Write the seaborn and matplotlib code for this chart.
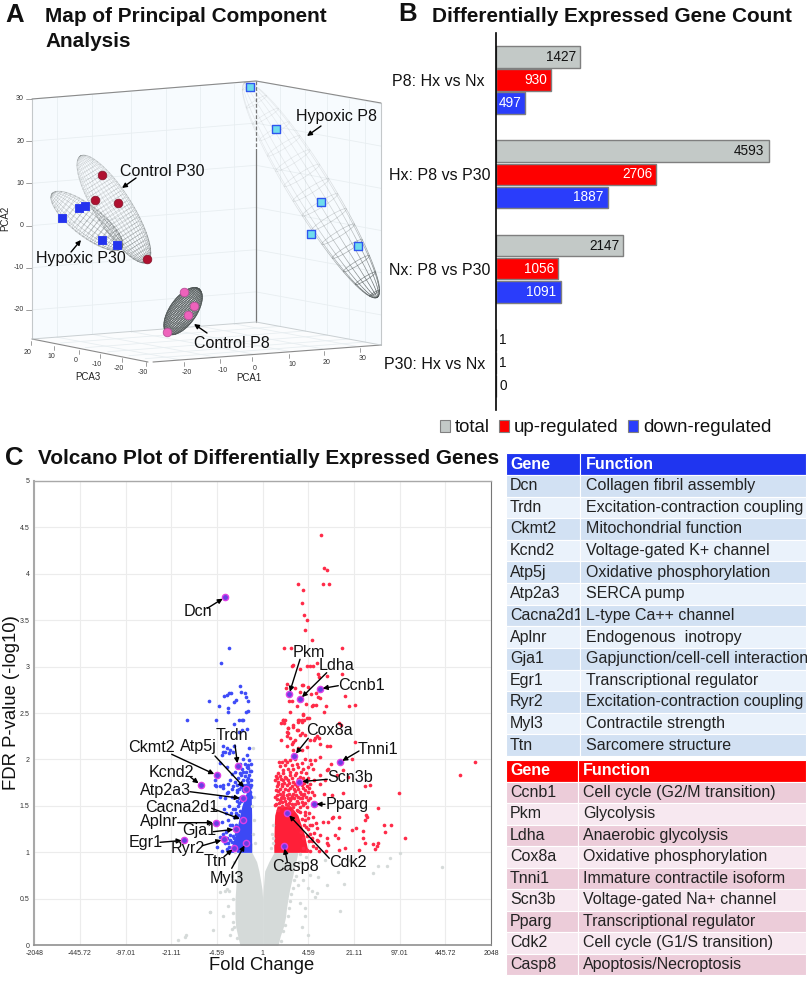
import numpy as np
import pandas as pd
import matplotlib
matplotlib.use("Agg")
import matplotlib.pyplot as plt
import seaborn as sns
from matplotlib.collections import LineCollection
from matplotlib.patches import Patch, Polygon
from matplotlib.transforms import ScaledTranslation

sns.set_theme(style="white")
plt.rcParams['font.family'] = ['Liberation Sans', 'DejaVu Sans']

W, H = 807, 982

# ---- panel A data (projected PCA coordinates)
hypoxic_p8 = [(51.7, 32.8), (57.8, 22.9), (68.5, 5.6), (66.1, -2.0), (77.3, -4.9)]
hypoxic_p30 = [(7.1, 1.8), (11.1, 4.1), (12.6, 4.6), (16.6, -3.4), (20.1, -4.6)]
control_p30 = [(16.6, 12.0), (14.9, 6.0), (20.4, 5.3), (27.3, -7.9)]
control_p8 = [(36.0, -15.8), (38.4, -19.1), (37.0, -21.2), (32.0, -25.2)]
pca2_ticks = [30, 20, 10, 0, -10, -20]
pca3_ticks = [20, 10, 0, -10, -20, -30]
pca1_ticks = [-20, -10, 0, 10, 20, 30]

# ---- panel B data
comparisons = ['P8: Hx vs Nx', 'Hx: P8 vs P30', 'Nx: P8 vs P30', 'P30: Hx vs Nx']
total_counts = [1427, 4593, 2147, 1]
up_counts = [930, 2706, 1056, 1]
down_counts = [497, 1887, 1091, 0]

# ---- panel C data (log2 fold change, -log10 FDR)
fold_ticks = [-2048, -445.72, -97.01, -21.11, -4.59, 1, 4.59, 21.11, 97.01, 445.72, 2048]
p_ticks = [0, 0.5, 1, 1.5, 2, 2.5, 3, 3.5, 4, 4.5, 5]

grey_y = [0, .1, .2, .3, .4, .5, .6, .7, .8, .9, 1.0, 1.1]
grey_left = [-1.09, -1.2, -1.3, -1.33, -1.33, -1.33, -1.3, -1.27, -1.23, -1.2, -1.19, -.9]
grey_inner_left = [0, 0, 0, 0, 0, 0, -.03, -.1, -.18, -.29, -.52, -.5]
grey_inner_right = [0, 0, 0, 0, 0, 0, .03, .06, .1, .3, .55, .5]
grey_right = [.74, .85, 1.0, 1.1, 1.15, 1.22, 1.3, 1.4, 1.5, 1.6, 1.7, 1.0]
grey_points = [(-2.05, .57), (-1.73, .61), (-2.53, .36), (-3.74, .09), (-3.68, .11), (-4.09, .06),
               (-1.62, .58), (-1.82, .58), (-2.54, .36), (-1.90, .31), (-2.38, .16), (-1.66, .42),
               (-1.42, .25), (-1.58, .11), (-1.5, .18), (6.13, .94), (6.61, .99), (8.62, .84),
               (5.57, .85), (5.97, .85), (5.33, .775), (3.72, .37), (2.68, .74), (3.08, .65),
               (3.93, .66), (3.64, .79), (2.2, .62), (2.60, .56), (2.36, .58), (2.52, .52),
               (2.17, .11), (2.04, .31), (1.88, .20), (2.04, .40), (1.80, .45), (1.96, .70),
               (2.28, .76), (3.0, .92), (4.2, .92), (2.1, .95), (-.45, 1.2), (-.42, 1.35),
               (-.5, 1.5), (-.55, 1.7), (-.35, 1.1), (.42, 1.05), (.45, 1.2), (.5, 1.1),
               (.48, 1.3), (.52, 1.15), (-.45, 2.12), (-.4, 1.6),
               (1.8, .98), (1.75, .9), (1.68, .85), (1.62, .75), (1.52, .7), (1.45, .62), (1.38, .55),
               (1.32, .48), (1.25, .4), (1.2, .32), (1.1, .22), (1.0, .15), (.9, .05), (1.85, .9),
               (1.7, .65), (-1.4, .9), (-1.45, .7), (-1.42, .5), (-1.45, .35), (-1.38, .2), (-1.25, .08),
               (-1.5, .75), (-1.35, 1.0)]

blue_y = [1, 1.1, 1.2, 1.3, 1.4, 1.5, 1.6, 1.7]
blue_left = [-1.55, -1.45, -1.3, -1.2, -1.1, -1.0, -.85, -.7]
blue_right = [-.53, -.53, -.53, -.53, -.53, -.54, -.55, -.58]
blue_points = [(-1.605, 3.203), (-1.99, 3.042), (-1.09, 2.794), (-1.06, 2.73), (-.87, 2.71),
               (-1.51, 2.72), (-1.62, 2.71), (-1.73, 2.69), (-1.85, 2.68), (-.80, 2.67),
               (-.69, 2.63), (-1.30, 2.64), (-1.40, 2.62), (-2.58, 2.63), (-2.09, 2.57),
               (-1.65, 2.55), (-1.67, 2.51), (-.72, 2.52), (-.82, 2.51), (-2.23, 2.43),
               (-1.16, 2.43), (-.93, 2.43), (-1.0, 2.43), (-1.40, 2.38), (-.74, 2.33),
               (-.98, 2.32), (-1.12, 2.30), (-1.89, 2.145), (-1.73, 2.12), (-1.36, 2.145),
               (-.64, 2.12), (-1.89, 2.08), (-1.96, 2.05), (-1.60, 2.07), (-1.41, 2.08),
               (-.74, 2.05), (-.93, 2.01), (-.66, 1.995), (-.69, 1.94), (-1.09, 1.95),
               (-.69, 1.905), (-.93, 1.87), (-1.09, 1.85), (-1.49, 1.84), (-.56, 1.88),
               (-1.17, 1.80), (-.69, 1.80), (-.85, 1.82), (-2.30, 1.78), (-1.65, 1.74),
               (-1.33, 1.76), (-1.89, 1.72), (-2.26, 1.71), (-1.09, 1.74), (-.61, 1.70),
               (-1.49, 1.68), (-1.65, 1.65), (-1.25, 1.67), (-.77, 1.60), (-.61, 1.62),
               (-3.66, 2.43), (-1.81, 2.08), (-1.57, 2.10), (-2.05, 1.96), (-1.73, 1.92),
               (-1.57, 1.78), (-1.89, 1.69), (-2.29, 1.725), (-2.05, 1.71), (-2.05, 1.6),
               (-1.73, 1.64), (-1.41, 1.71), (-1.49, 1.60), (-1.22, 1.65), (-1.86, 1.47),
               (-1.54, 1.42), (-1.33, 1.47), (-1.57, 1.29), (-1.76, 1.22), (-2.05, 1.17),
               (-1.57, 1.19), (-2.21, 1.06), (-1.73, 1.04), (-1.49, 1.11), (-1.65, 1.10),
               (-1.89, 1.20), (-1.17, 1.40), (-1.12, 1.53), (-1.06, 1.60), (-.93, 1.725),
               (-.77, 1.78), (-1.06, 1.83), (-1.33, 1.87), (-.73, 1.92), (-1.4, 1.15),
               (-1.45, 1.03), (-1.3, 1.3), (-1.2, 1.25), (-1.25, 1.38), (-1.1, 1.45),
               (-.6, 1.65), (-.72, 1.68), (-.88, 1.66), (-.65, 1.72), (-.8, 1.72), (-.58, 1.78),
               (-.68, 1.83), (-.95, 1.78), (-.62, 1.88), (-.8, 1.86), (-.58, 1.95), (-.86, 1.95),
               (-1.0, 1.9), (-.95, 1.67), (-1.05, 1.7), (-1.15, 1.58), (-1.02, 1.55), (-1.25, 1.55),
               (-1.18, 1.5), (-1.3, 1.42), (-1.4, 1.38), (-1.48, 1.3), (-1.38, 1.25), (-1.3, 1.2),
               (-1.45, 1.18), (-1.55, 1.13), (-1.62, 1.06), (-1.55, 1.02), (-1.7, 1.15), (-1.82, 1.1),
               (-1.95, 1.02), (-1.42, 1.47), (-1.22, 1.72), (-1.12, 1.68), (-.72, 1.76), (-.55, 1.72),
               (-.55, 1.6), (-1.65, 1.35), (-1.75, 1.42), (-1.95, 1.33), (-1.6, 1.5), (-1.8, 1.58)]

red_y = [1, 1.1, 1.2, 1.3, 1.4, 1.5]
red_left = [.54, .54, .55, .56, .58, .7]
red_right = [2.2, 2.1, 2.0, 1.85, 1.7, 1.35]
red_points = [(2.82, 4.42), (2.95, 4.06), (3.11, 4.04), (1.70, 3.89), (2.90, 3.89), (3.21, 3.89),
              (1.93, 3.82), (1.91, 3.68), (1.97, 3.55), (2.13, 3.50), (2.05, 3.39), (2.36, 3.29),
              (1.03, 3.20), (1.35, 3.20), (3.82, 3.20), (1.40, 3.01), (1.48, 3.02), (2.13, 3.01),
              (2.28, 3.01), (2.44, 3.01), (2.62, 3.04), (1.80, 2.97), (3.80, 2.92), (2.65, 2.92),
              (2.71, 2.89), (3.11, 2.90), (1.15, 2.81), (1.11, 2.77), (1.88, 2.80), (1.96, 2.80),
              (2.17, 2.78), (1.55, 2.77), (1.80, 2.73), (2.55, 2.71), (2.31, 2.70), (3.97, 2.68),
              (1.40, 2.63), (1.25, 2.63), (2.66, 2.67), (2.78, 2.66), (2.58, 2.59), (2.36, 2.58),
              (2.41, 2.59), (2.07, 2.60), (3.07, 2.57), (1.64, 2.57), (4.16, 2.57), (4.43, 2.59),
              (2.97, 2.51), (1.30, 2.51), (1.96, 2.49), (2.25, 2.45), (1.76, 2.43), (1.88, 2.43),
              (2.0, 2.42), (1.0, 2.43), (1.07, 2.42), (.88, 2.39), (1.04, 2.39), (1.88, 2.40),
              (1.68, 2.40), (3.66, 2.39), (3.76, 2.37), (1.23, 2.34), (1.19, 2.30), (1.15, 2.25),
              (1.48, 2.35), (1.67, 2.32), (1.91, 2.29), (.87, 2.21), (1.56, 2.21), (1.44, 2.19),
              (2.49, 2.21), (2.60, 2.25), (2.70, 2.23), (2.78, 2.17), (3.11, 2.15), (3.26, 2.14),
              (4.46, 2.19), (4.29, 2.0), (3.27, 1.95), (.79, 1.97), (.91, 1.97), (1.15, 1.97),
              (3.08, 1.89), (10.23, 1.97), (9.52, 1.83),
              (6.58, 1.64), (3.87, 1.64), (2.95, 1.625), (3.32, 1.615), (4.93, 1.71), (5.17, 1.72),
              (5.54, 1.475), (4.96, 1.40), (5.01, 1.385), (4.93, 1.35), (3.40, 1.385), (3.69, 1.385),
              (3.32, 1.37), (3.16, 1.33), (2.92, 1.33), (6.20, 1.295), (5.84, 1.29), (5.88, 1.22),
              (4.85, 1.23), (4.51, 1.26), (4.29, 1.24), (3.69, 1.26), (3.48, 1.19), (3.64, 1.16),
              (4.85, 1.16), (6.84, 1.15), (4.93, 1.10), (5.54, 1.105), (5.30, 1.09), (5.49, 1.07),
              (5.41, 1.04), (4.66, 1.03), (3.96, 1.05), (3.69, 1.03), (3.11, 1.15), (3.08, 1.10),
              (3.13, 1.08), (3.05, 1.01), (2.68, 1.12), (2.76, 1.19), (2.44, 1.07), (2.12, 1.03),
              (2.36, 1.15), (2.47, 1.21), (2.60, 1.26), (1.96, 1.05), (2.44, 1.385), (2.28, 1.30),
              (2.2, 1.37), (2.04, 1.35), (1.95, 1.15), (1.85, 1.22), (1.75, 1.28), (1.6, 1.36),
              (.64, 1.82), (.83, 1.82), (1.07, 1.81), (1.32, 1.83), (1.56, 1.83), (1.80, 1.81),
              (.59, 1.78), (.75, 1.76), (.99, 1.78), (1.24, 1.78), (1.48, 1.76), (.67, 1.71),
              (.91, 1.71), (1.15, 1.73), (1.40, 1.71), (1.64, 1.71), (1.88, 1.73), (2.12, 1.71),
              (.75, 1.66), (.99, 1.65), (1.24, 1.67), (1.56, 1.66), (1.80, 1.65), (2.04, 1.67),
              (2.36, 1.65), (.67, 1.62), (.91, 1.60), (1.15, 1.62), (1.40, 1.61), (1.72, 1.60),
              (1.96, 1.62), (.83, 1.56), (1.07, 1.55), (1.32, 1.56), (1.64, 1.55), (1.88, 1.54),
              (2.20, 1.56), (.59, 1.51), (.91, 1.50), (1.24, 1.50), (1.48, 1.49), (1.80, 1.49),
              (2.12, 1.49), (.75, 1.46), (1.07, 1.45), (1.40, 1.44), (1.72, 1.44), (2.04, 1.43),
              (.99, 2.42), (1.24, 2.34), (1.2, 2.28), (1.32, 2.23), (1.40, 2.17), (1.15, 2.14),
              (1.48, 2.37), (1.72, 2.42), (1.96, 2.48), (2.12, 2.45), (1.72, 2.32), (1.80, 2.26),
              (2.04, 2.26), (2.28, 2.21), (2.52, 2.23), (1.72, 2.12), (1.88, 2.10), (2.12, 2.13),
              (1.48, 2.10), (1.56, 2.01), (1.32, 1.99), (1.07, 1.99), (2.04, 2.01), (2.28, 1.99),
              (2.52, 1.99), (2.76, 2.03), (.99, 1.89), (1.24, 1.90), (1.48, 1.90), (1.72, 1.92),
              (1.96, 1.90), (2.20, 1.92), (2.44, 1.90), (2.76, 1.83), (3.0, 1.78), (2.76, 1.74),
              (3.16, 1.90), (3.56, 1.83), (4.13, 1.81), (3.88, 1.89),
              (.62, 1.52), (.78, 1.53), (.95, 1.54), (1.12, 1.52), (1.28, 1.53), (1.42, 1.52),
              (1.58, 1.52), (1.72, 1.53), (1.95, 1.51), (2.05, 1.53), (.7, 1.57), (.88, 1.58),
              (1.02, 1.58), (1.2, 1.59), (1.38, 1.58), (1.5, 1.59), (1.78, 1.58), (1.9, 1.59),
              (2.1, 1.6), (2.3, 1.58), (.6, 1.6), (.82, 1.63), (1.0, 1.62), (1.28, 1.63),
              (1.48, 1.63), (1.62, 1.62), (1.85, 1.63), (2.0, 1.63), (2.18, 1.65), (2.45, 1.62),
              (.65, 1.67), (.85, 1.68), (1.08, 1.68), (1.32, 1.69), (1.5, 1.68), (1.7, 1.68),
              (1.95, 1.69), (2.22, 1.69), (.72, 1.74), (.95, 1.74), (1.05, 1.75), (1.25, 1.75),
              (1.55, 1.74), (1.75, 1.75), (2.0, 1.75), (2.3, 1.74), (.68, 1.8), (.9, 1.79),
              (1.12, 1.8), (1.42, 1.8), (1.7, 1.79), (1.95, 1.8), (2.2, 1.8), (2.45, 1.78),
              (.75, 1.85), (1.0, 1.85), (1.3, 1.86), (1.6, 1.85), (1.85, 1.86), (2.1, 1.85),
              (.85, 1.93), (1.1, 1.94), (1.4, 1.94), (1.65, 1.95), (1.9, 1.96), (2.35, 1.95),
              (2.3, 1.02), (2.4, 1.12), (2.25, 1.12), (2.15, 1.18), (2.3, 1.2), (2.1, 1.27),
              (2.0, 1.3), (2.2, 1.25), (1.9, 1.36), (2.05, 1.4), (1.8, 1.43), (1.65, 1.46),
              (2.25, 1.42), (2.4, 1.3), (2.55, 1.05), (2.6, 1.13), (2.7, 1.02), (2.55, 1.32)]

marked_genes = ['Dcn', 'Trdn', 'Ckmt2', 'Kcnd2', 'Atp5j', 'Atp2a3', 'Cacna2d1', 'Aplnr', 'Gja1', 'Egr1', 'Ryr2', 'Ttn', 'Myl3',
                'Ccnb1', 'Pkm', 'Ldha', 'Cox8a', 'Tnni1', 'Scn3b', 'Pparg', 'Cdk2', 'Casp8']
marked_fc = [-1.81, -1.20, -2.21, -2.98, -.81, -.97, -.97, -2.26, -1.28, -3.77, -1.86, -1.36, -.81,
             2.76, 1.27, 1.80, 1.52, 3.72, 1.77, 2.46, 1.19, 1.03]
marked_p = [3.746, 1.93, 1.83, 1.725, 1.68, 1.58, 1.35, 1.32, 1.25, 1.13, 1.14, 1.05, 1.10,
            2.76, 2.70, 2.65, 2.04, 1.97, 1.76, 1.52, 1.42, 1.07]

# ---- tables
down_genes = ['Dcn', 'Trdn', 'Ckmt2', 'Kcnd2', 'Atp5j', 'Atp2a3', 'Cacna2d1', 'Aplnr', 'Gja1', 'Egr1', 'Ryr2', 'Myl3', 'Ttn']
down_funcs = ['Collagen fibril assembly', 'Excitation-contraction coupling', 'Mitochondrial function',
              'Voltage-gated K+ channel', 'Oxidative phosphorylation', 'SERCA pump', 'L-type Ca++ channel',
              'Endogenous  inotropy', 'Gapjunction/cell-cell interaction', 'Transcriptional regulator',
              'Excitation-contraction coupling', 'Contractile strength', 'Sarcomere structure']
up_genes = ['Ccnb1', 'Pkm', 'Ldha', 'Cox8a', 'Tnni1', 'Scn3b', 'Pparg', 'Cdk2', 'Casp8']
up_funcs = ['Cell cycle (G2/M transition)', 'Glycolysis', 'Anaerobic glycolysis', 'Oxidative phosphorylation',
            'Immature contractile isoform', 'Voltage-gated Na+ channel', 'Transcriptional regulator',
            'Cell cycle (G1/S transition)', 'Apoptosis/Necroptosis']


def px_axes(left, top, right, bottom, **kw):
    # axes placed by picture pixels
    return fig.add_axes([left / W, 1 - bottom / H, (right - left) / W, (bottom - top) / H], **kw)


def wire(ax, cx, cy, a, b, angle, n_rings, n_mer, lo, hi, lw=.45, power=2, flat=False):
    th0 = np.radians(angle)
    curves = []
    for s in np.linspace(-.96, .96, n_rings):
        t = np.linspace(0, 2 * np.pi, 40)
        h = b * np.sqrt(1 - s ** 2)
        curves.append((a * s + .14 * h * np.cos(t), h * np.sin(t)))
    for phi in np.linspace(0, np.pi, n_mer):
        t = np.linspace(0, np.pi, 60)
        curves.append((a * np.cos(t), b * np.sin(t) * np.cos(phi)))
    segs, cols = [], []
    for lx, ly in curves:
        x = cx + lx * np.cos(th0) - ly * np.sin(th0)
        y = cy + lx * np.sin(th0) + ly * np.cos(th0)
        pts = np.column_stack([x, y])
        for i in range(len(pts) - 1):
            segs.append(pts[i:i + 2])
            f = 1 if flat else (lx[i] / a + 1) / 2
            cols.append((.3, .33, .33, lo + (hi - lo) * f ** power))
    ax.add_collection(LineCollection(segs, colors=cols, linewidths=lw))


fig = plt.figure(figsize=(W / 100, H / 100), dpi=100)
bg = px_axes(0, 0, W, H, zorder=0)
bg.set_xlim(0, W)
bg.set_ylim(H, 0)
bg.axis('off')
ov = px_axes(0, 0, W, H, zorder=10)
ov.set_xlim(0, W)
ov.set_ylim(H, 0)
ov.axis('off')
ov.patch.set_alpha(0)

# headings
for letter, x, y in [('A', 5, 15), ('B', 398, 14), ('C', 5, 458)]:
    ov.text(x, y, letter, fontsize=18.5, fontweight='bold', va='center', color='#111111')
ov.text(45, 16, 'Map of Principal Component', fontsize=14.95, fontweight='bold', va='center', color='#111111')
ov.text(45, 41, 'Analysis', fontsize=14.95, fontweight='bold', va='center', color='#111111')
ov.text(432, 16, 'Differentially Expressed Gene Count', fontsize=14.95, fontweight='bold', va='center', color='#111111')
ov.text(38, 459, 'Volcano Plot of Differentially Expressed Genes', fontsize=14.95, fontweight='bold', va='center', color='#111111')

# ---- A: box of the 3D view
B_, L_, R_, F_ = np.array([256, 322.]), np.array([32, 339.]), np.array([381, 345.]), np.array([157, 362.])
wall_h = 240
bg.add_patch(Polygon([L_, B_, B_ - [0, wall_h + 1], L_ - [0, wall_h]], fc='#f7fbfe', ec='none'))
bg.add_patch(Polygon([B_, R_, R_ - [0, wall_h + 2], B_ - [0, wall_h + 1]], fc='#f7fbfe', ec='none'))
bg.add_patch(Polygon([L_, B_, R_, F_], fc='#fbfcfd', ec='none'))
grid_c = '#e8eef1'
for v in pca2_ticks:
    yl = 225.5 - 4.22 * v
    bg.plot([32, 256, 381], [yl, yl - 18, yl + 5], color=grid_c, lw=.6)
    bg.plot([26, 32], [yl, yl], color='#777777', lw=.5)
    bg.text(24, yl, str(v), fontsize=5, ha='right', va='center', color='#333333')
for t in [.11, .27, .44, .6, .75, .9]:
    p = L_ + t * (B_ - L_)
    bg.plot([p[0], p[0]], [p[1], p[1] - wall_h], color=grid_c, lw=.6)
    q = p + (R_ - B_) * .98
    bg.plot([p[0], q[0]], [p[1], q[1]], color=grid_c, lw=.6)
for t in [.19, .39, .57, .74, .87]:
    p = B_ + t * (R_ - B_)
    bg.plot([p[0], p[0]], [p[1], p[1] - wall_h], color=grid_c, lw=.6)
    q = p + (L_ - B_) * .98
    bg.plot([p[0], q[0]], [p[1], q[1]], color=grid_c, lw=.6)
edge_c = '#8a8a8a'
bg.plot([32, 32], [99, 339], color='#c4c8ca', lw=.8)
bg.plot([381, 381], [103, 345], color='#c4c8ca', lw=.8)
bg.plot([32, 256, 381], [99, 81, 103], color=edge_c, lw=.8)
bg.plot([256, 256], [150, 322], color='#777777', lw=.9)
bg.plot([256, 256], [81, 150], color='#777777', lw=.9, ls=(0, (3, 1.5)))
bg.plot([L_[0], 148], [L_[1], 362], color='#8a8a8a', lw=.8)
bg.plot([R_[0], 153], [R_[1], 362], color='#8a8a8a', lw=.8)
bg.plot([L_[0], B_[0], R_[0]], [L_[1], B_[1], R_[1]], color='#c9cfd2', lw=.7)
for v, x, y in zip(pca3_ticks, [28, 51, 76, 97, 119, 143], [352, 357, 361, 365, 369, 373]):
    bg.plot([x + 3, x + 3], [y - 11, y - 7], color='#777777', lw=.5)
    bg.text(x, y, str(v), fontsize=5, ha='center', va='center', color='#333333')
for v, x, y in zip(pca1_ticks, [187, 223, 255, 292, 327, 363], [373, 370, 368, 365, 362, 359]):
    bg.plot([x - 3, x - 3], [y - 11, y - 7], color='#777777', lw=.5)
    bg.text(x, y, str(v), fontsize=5, ha='center', va='center', color='#333333')
bg.text(88, 377, 'PCA3', fontsize=7, ha='center', va='center', color='#222222')
bg.text(249, 378, 'PCA1', fontsize=7, ha='center', va='center', color='#222222')
bg.text(5, 218, 'PCA2', fontsize=7, ha='center', va='center', rotation=90, color='#222222')

# A: samples, axes x/y scaled to the PCA2 units of the left wall
ax_a = px_axes(32, 81, 381, 365, zorder=1)
ax_a.set_xlim(0, 349 / 4.22)
ax_a.set_ylim((225.5 - 365) / 4.22, (225.5 - 81) / 4.22)
ax_a.axis('off')
ax_a.patch.set_alpha(0)
wire(ax_a, 66.1, 8.4, 29.9, 5.0, -58.3, 15, 9, .1, 1.0, lw=.5, power=4)
wire(ax_a, 19.4, 3.9, 14.9, 4.4, -57.7, 32, 17, .22, .6, lw=.3)
wire(ax_a, 13.0, 1.1, 10.5, 3.6, -38, 20, 11, .3, .6, lw=.35)
wire(ax_a, 35.8, -20.3, 6.5, 3.2, 54.7, 34, 18, .9, .9, lw=.45, flat=True)


def samples(points, marker, size, face, edge, lw):
    d = pd.DataFrame(points, columns=['x', 'y'])
    sns.scatterplot(data=d, x='x', y='y', marker=marker, s=size, color=face, edgecolor=edge, linewidth=lw, ax=ax_a, zorder=5, clip_on=False)


samples(hypoxic_p8, 's', 32, '#6fdcec', '#2f55ef', 1.0)
samples(hypoxic_p30, 's', 38, '#2433ee', '#2433ee', .6)
samples(control_p30, 'o', 38, '#b01030', '#8a1a30', .6)
samples(control_p8, 'o', 38, '#ee62bb', '#b8509a', .6)
ax_a.set_xlabel('')
ax_a.set_ylabel('')

arrow = dict(arrowstyle='-|>', color='black', lw=1.0, mutation_scale=7, shrinkA=0, shrinkB=0)
for txt, tx, ty, x0, y0, x1, y1 in [('Hypoxic P8', 337, 116, 321, 126, 307, 136),
                                    ('Control P30', 162, 171, 136, 178, 122, 188),
                                    ('Hypoxic P30', 81, 258, 71, 252, 81, 240),
                                    ('Control P8', 232, 343, 207, 333, 194, 324)]:
    ov.text(tx, ty, txt, fontsize=11.5, ha='center', va='center', color='#111111')
    ov.annotate('', xy=(x1, y1), xytext=(x0, y0), arrowprops=arrow)

# ---- B
counts = pd.DataFrame({'comparison': comparisons * 3,
                       'count': total_counts + up_counts + down_counts,
                       'kind': ['total'] * 4 + ['up-regulated'] * 4 + ['down-regulated'] * 4})
palette = {'total': '#c3c9c7', 'up-regulated': '#fe0000', 'down-regulated': '#2a3dfb'}
ax_b = px_axes(495.7, 33, 792.7, 410, zorder=2)
sns.barplot(data=counts, y='comparison', x='count', hue='kind', palette=palette, orient='h', width=.735, gap=.06,
            saturation=1, edgecolor='#7f7f7f', linewidth=1, legend=False, ax=ax_b)
ax_b.set_xlim(0, 5000)
ax_b.set_ylim(3.5, -.5)
ax_b.set_xlabel('')
ax_b.set_ylabel('')
ax_b.set_xticks([])
sns.despine(ax=ax_b, left=False, top=True, right=True, bottom=True)
ax_b.spines['left'].set_color('black')
ax_b.spines['left'].set_linewidth(1.2)
ax_b.patch.set_alpha(0)
ax_b.tick_params(axis='y', length=0, pad=3.5, labelsize=11.5, labelcolor='#111111')
for lab, dx in zip(ax_b.get_yticklabels(), [-6.5, 0, 0, -5.5]):
    lab.set_transform(lab.get_transform() + ScaledTranslation(dx / 100, 0, fig.dpi_scale_trans))
for cont, vals, col in zip(ax_b.containers, [total_counts, up_counts, down_counts], ['#111111', 'white', 'white']):
    for bar, v in zip(cont, vals):
        yc = bar.get_y() + bar.get_height() / 2
        if v > 100:
            ax_b.annotate(str(v), (v, yc), xytext=(-3, 0), textcoords='offset points', ha='right', va='center', fontsize=9.8, color=col)
        else:
            ax_b.annotate(str(v), (0, yc), xytext=(2.5, 0), textcoords='offset points', ha='left', va='center', fontsize=9.8, color='#111111')
fig.legend(handles=[Patch(fc=palette[k], ec='#808080', lw=.8, label=k) for k in ['total', 'up-regulated', 'down-regulated']],
           loc='center left', bbox_to_anchor=(440 / W, 1 - 428 / H), ncol=3, frameon=False, fontsize=13.4,
           handlelength=.55, handleheight=.6, handletextpad=.25, columnspacing=.5, borderpad=0, borderaxespad=0,
           labelcolor='#111111')

# ---- C
ax_c = px_axes(34.3, 480.7, 491, 945.3, zorder=3)
ax_c.set_xlim(-11, 11)
ax_c.set_ylim(0, 5)
ax_c.set_xticks([np.sign(v) * np.log2(abs(v)) for v in fold_ticks])
ax_c.set_xticklabels([f'{v:g}' for v in fold_ticks])
ax_c.set_yticks(p_ticks)
ax_c.set_yticklabels([f'{v:g}' for v in p_ticks])
ax_c.grid(True, color='#ececec', lw=.8)
ax_c.set_axisbelow(True)
ax_c.tick_params(length=1.5, width=.5, color='#888888', labelsize=5, labelcolor='#333333', pad=2)
for s, c, lw in [('left', '#a8a8a8', 1.5), ('bottom', '#909090', 1.2), ('top', '#a8a8a8', 1.0), ('right', '#777777', .8)]:
    ax_c.spines[s].set_color(c)
    ax_c.spines[s].set_linewidth(lw)

ax_c.fill_betweenx(grey_y, grey_left, grey_inner_left, color='#d5dad9', lw=0)
ax_c.fill_betweenx(grey_y, grey_inner_right, grey_right, color='#d5dad9', lw=0)
ax_c.fill_betweenx(blue_y, blue_left, blue_right, color='#3c48f5', lw=0)
ax_c.fill_betweenx(red_y, red_left, red_right, color='#ff1f38', lw=0)


def cloud(points, color, size=7):
    d = pd.DataFrame(points, columns=['fold', 'p'])
    sns.scatterplot(data=d, x='fold', y='p', color=color, s=size, linewidth=0, ax=ax_c, zorder=3)


cloud(grey_points, '#d5dad9', 6)
cloud(blue_points, '#3f4cf8')
cloud(red_points, '#ff2b48')
marked = pd.DataFrame({'gene': marked_genes, 'fold': marked_fc, 'p': marked_p})
sns.scatterplot(data=marked, x='fold', y='p', color='#6a3fe2', edgecolor='#de3fe8', linewidth=1, s=20, ax=ax_c, zorder=4)
ax_c.set_xlabel('')
ax_c.set_ylabel('')
ov.text(262, 966, 'Fold Change', fontsize=13.2, ha='center', va='center', color='#111111')
ov.text(12, 703, 'FDR P-value (-log10)', fontsize=13.3, ha='center', va='center', rotation=90, color='#111111')

label_place = {'Dcn': (197.7, 611.7, 207.3, 608.3), 'Trdn': (232, 735.7, 235, 745), 'Ckmt2': (151.7, 747.7, 171.7, 754.3),
               'Kcnd2': (171.7, 772.3, 190.7, 777.3), 'Atp5j': (198, 746.7, 215, 756), 'Atp2a3': (165.7, 790, 190, 791.7),
               'Cacna2d1': (181.7, 807.3, 211.7, 808.3), 'Aplnr': (159, 821.7, 177.7, 822.7), 'Gja1': (199.3, 831, 213.3, 831.7),
               'Egr1': (145.7, 842.7, 160, 842.3), 'Ryr2': (187.7, 849, 202.3, 845.7), 'Ttn': (215, 861, 224, 856.7),
               'Myl3': (227.3, 878.3, 231.7, 868.3), 'Ccnb1': (361.7, 685, 338.3, 685.7), 'Pkm': (309.3, 652.7, 300, 659.3),
               'Ldha': (336, 666, 326.7, 672.7), 'Cox8a': (329.3, 730.7, 308.3, 738.3), 'Tnni1': (377.7, 750, 359, 751),
               'Scn3b': (350, 777.3, 327.3, 779.3), 'Pparg': (346.7, 805, 325, 804.3), 'Cdk2': (347.7, 862.3, 329.3, 858.3),
               'Casp8': (295.7, 866.7, 287.3, 861.7)}
gene_arrow = dict(arrowstyle='-|>', color='black', lw=1.0, mutation_scale=7, shrinkA=0, shrinkB=2)
for gene, fc, p in zip(marked_genes, marked_fc, marked_p):
    tx, ty, x0, y0 = label_place[gene]
    ov.text(tx, ty, gene, fontsize=11.6, ha='center', va='center', color='#111111')
    ov.annotate('', xy=ax_c.transData.transform((fc, p)), xycoords='figure pixels', xytext=(x0, y0), textcoords='data', arrowprops=gene_arrow)


# ---- tables
def gene_table(top, bottom, genes, funcs, split, head_col, odd, even, pad0, pad1):
    ax = px_axes(505.7, top, 806, bottom, zorder=4)
    ax.axis('off')
    tb = ax.table(cellText=[[g, f] for g, f in zip(genes, funcs)], colLabels=['Gene', 'Function'], cellLoc='left', colLoc='left',
                  colWidths=[split - 505.7, 806 - split], bbox=[0, 0, 1, 1])
    tb.auto_set_font_size(False)
    tb.set_fontsize(11.5)
    for (r, c), cell in tb.get_celld().items():
        cell.set_edgecolor('white')
        cell.set_linewidth(.8)
        cell.PAD = pad0 if c == 0 else pad1
        if r == 0:
            cell.set_facecolor(head_col)
            cell.get_text().set_color('white')
            cell.get_text().set_fontweight('bold')
        else:
            cell.set_facecolor(odd if r % 2 else even)
            cell.get_text().set_color('#222222')


gene_table(453.3, 756, down_genes, down_funcs, 580.3, '#1f35f0', '#d2e1f3', '#eaf2fb', .058, .024)
gene_table(760, 975, up_genes, up_funcs, 578.3, '#fe0000', '#ecccd9', '#f7e8f0', .058, .02)

fig.savefig('out.png', dpi=100)
